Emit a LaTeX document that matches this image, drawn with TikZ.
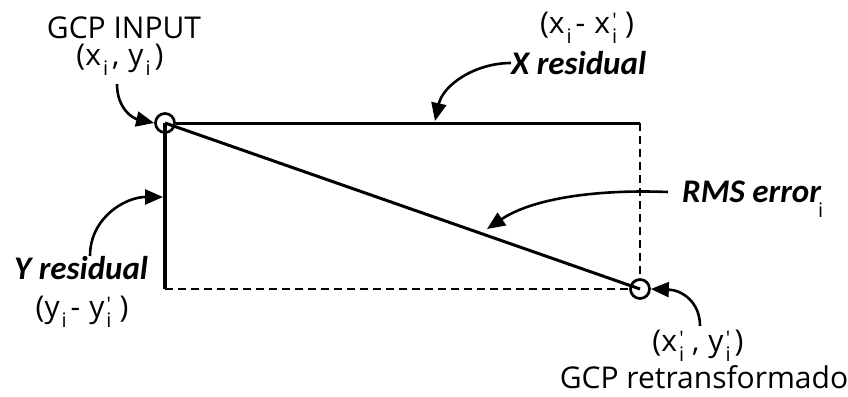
\documentclass[tikz,border=0pt]{standalone}
\usepackage{fontspec}
\usetikzlibrary{arrows.meta}
\newfontfamily\cfont{Open Sans}
\newfontfamily\bfont{Carlito}
\newcommand\sbi{\kern2pt\raisebox{-0.32em}{\fontsize{20}{20}\selectfont i}\kern4pt}
\newcommand\pri{\kern2pt\raisebox{-0.32em}{\fontsize{20}{20}\selectfont\rlap{\kern0.3pt\raisebox{0.8em}{'}}i}\kern4pt}
\newcommand\gap{\kern9pt}
\tikzset{
  lbl/.style={font=\cfont\fontsize{30}{32}\selectfont, inner sep=0pt, anchor=center},
  blbl/.style={font=\bfont\fontsize{33}{35}\selectfont\bfseries\itshape, inner sep=0pt},
  solidl/.style={line width=3pt},
  dashl/.style={line width=2.6pt, dash pattern=on 8pt off 5pt},
  pt/.style={circle, draw, line width=2.7pt, minimum size=19pt, inner sep=0pt},
  callout/.style={line width=2.6pt, -{Triangle[length=18pt,width=15pt]}}
}
\begin{document}
\begin{tikzpicture}[x=1pt,y=-1pt]
\useasboundingbox (0,0) rectangle (848,396);
\node[pt] (c1) at (165,123) {};
\node[pt] (c2) at (640,289) {};
\coordinate (tr) at (640,123);
\coordinate (bl) at (165,289);
\draw[solidl] (c1.east) -- (tr);
\draw[dashl] (tr) -- (c2.north);
\draw[solidl, line width=3.5pt] (c1.center) -- (bl);
\draw[dashl] (bl) -- (c2.west);
\draw[solidl] (c1.center) -- (c2.center);
% labels
\node[lbl] (gin) at (124,28) {GCP INPUT};
\node[lbl] (gxy) at (120,60) {(x\sbi,\gap y\sbi)};
\node[lbl] (xd) at (587,28) {(x\sbi-\gap x\pri\kern4pt)};
\node[blbl, anchor=west] (xr) at (511,63) {X residual};
\node[blbl, anchor=west] (rms) at (682,192) {RMS error};
\node[lbl, anchor=north west, font=\cfont\fontsize{20}{20}\selectfont] (rmsi) at (818,203) {i};
\node[blbl, anchor=west] (yr) at (14,268) {Y residual};
\node[lbl] (yd) at (82,312) {(y\sbi-\gap y\pri\kern4pt)};
\node[lbl] (gxy2) at (698,346) {(x\pri\kern4pt,\gap y\pri)};
\node[lbl] (gret) at (704,377) {GCP retransformado};
% callouts
\coordinate (a1) at (117,84);
\coordinate (a2) at (511,63);
\coordinate (a3) at (668,192);
\coordinate (a4) at (90,256);
\coordinate (a5) at (700,326);
\coordinate (t2) at (435,121);
\coordinate (t3) at (487,229);
\coordinate (t4) at (163,197);
\draw[callout] (a1) .. controls (117,108) and (132,118) .. (c1.west);
\draw[callout] (a2) .. controls (475,63) and (443,85) .. (t2);
\draw[callout] (a3) .. controls (590,189) and (530,200) .. (t3);
\draw[callout] (a4) .. controls (90,218) and (125,197) .. (t4);
\draw[callout] (a5) .. controls (700,302) and (682,290) .. (c2.east);
\end{tikzpicture}
\end{document}
